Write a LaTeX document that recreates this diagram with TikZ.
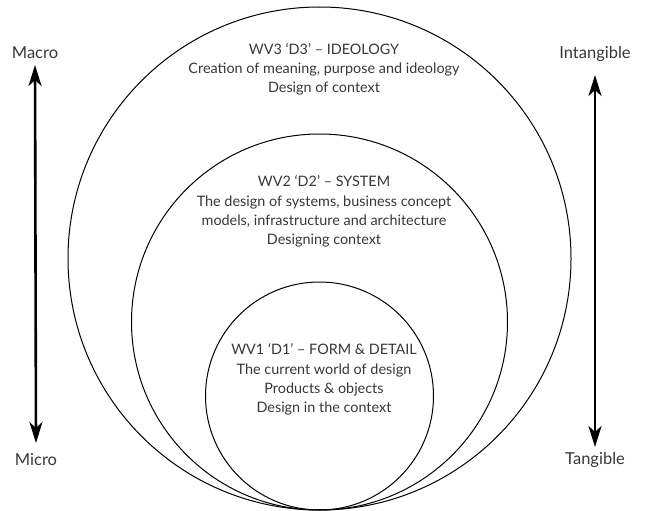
\documentclass[tikz,border=0pt]{standalone}
\usepackage{fontspec}
\setmainfont{Lato}
\usetikzlibrary{arrows.meta,positioning}
\definecolor{wvtext}{RGB}{55,55,55}

\begin{document}
\begin{tikzpicture}[x=1pt, y=-1pt,
    ring/.style={circle, draw, line width=1pt, inner sep=0pt},
    body/.style={align=center, text=wvtext, font=\fontsize{14.4}{19.3}\selectfont},
    side/.style={text=wvtext, inner sep=0pt, font=\fontsize{16.5}{18}\selectfont},
    axisarrow/.style={{Stealth[length=21pt,width=13pt,inset=6pt]}-{Stealth[length=21pt,width=13pt,inset=6pt]}, line width=2.6pt}
]
\useasboundingbox (0,0) rectangle (648,511);

% Circles, touching at the bottom
\node[ring, minimum size=503pt] (wv3) at (319.5,258.5) {};
\node[ring, minimum size=376pt] (wv2) at (319.5,322) {};
\node[ring, minimum size=228pt] (wv1) at (319.5,396) {};

% Texts of the circles
\node[body] (t3) at (324,69.5) {WV3 ‘D3’ – IDEOLOGY\\Creation of meaning, purpose and ideology\\Design of context};
\node[body] (t2) at (324,211.5) {WV2 ‘D2’ – SYSTEM\\The design of systems, business concept\\models, infrastructure and architecture\\Designing context};
\node[body] (t1) at (324,379.5) {WV1 ‘D1’ – FORM \& DETAIL\\The current world of design\\Products \& objects\\Design in the context};

% Side scales
\node[side] (macro) at (35,53) {Macro};
\node[side] (micro) at (36,459.5) {Micro};
\node[side] (intang) at (595,54) {Intangible};
\node[side] (tang) at (595,460) {Tangible};

\draw[axisarrow] ([yshift=-12pt]macro.center) -- ([yshift=16.5pt]micro.center);
\draw[axisarrow] ([yshift=-21pt]intang.center) -- ([yshift=13pt]tang.center);

\end{tikzpicture}
\end{document}
